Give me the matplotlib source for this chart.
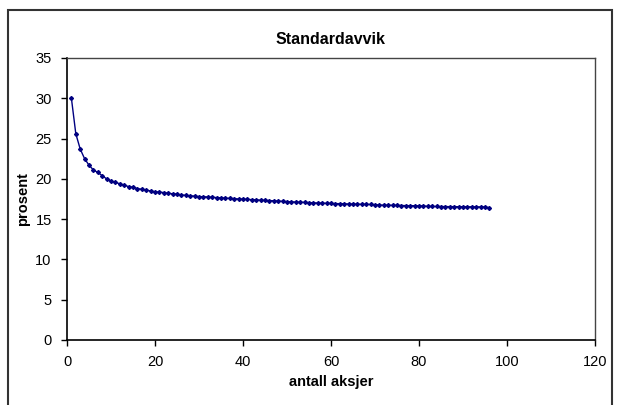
import matplotlib
matplotlib.use("Agg")
import matplotlib.pyplot as plt
from matplotlib.patches import Rectangle

# antall aksjer vs standardavvik (prosent)
antall = list(range(1, 97))
std_prosent = [
    30.0, 25.6, 23.7, 22.5, 21.7, 21.1, 20.8, 20.4, 20.0, 19.75,
    19.55, 19.4, 19.2, 19.05, 18.95, 18.8, 18.7, 18.6, 18.5, 18.4,
    18.35, 18.3, 18.2, 18.15, 18.1, 18.0, 17.95, 17.9, 17.85, 17.8,
    17.78, 17.75, 17.7, 17.68, 17.65, 17.6, 17.58, 17.55, 17.5, 17.48,
    17.45, 17.42, 17.4, 17.35, 17.33, 17.3, 17.28, 17.25, 17.2, 17.18,
    17.15, 17.12, 17.1, 17.08, 17.05, 17.02, 17.0, 16.98, 16.96, 16.95,
    16.93, 16.92, 16.9, 16.88, 16.86, 16.85, 16.84, 16.83, 16.82, 16.8,
    16.75, 16.73, 16.72, 16.71, 16.7, 16.69, 16.68, 16.67, 16.66, 16.65,
    16.64, 16.58, 16.57, 16.57, 16.56, 16.56, 16.55, 16.55, 16.54, 16.54,
    16.53, 16.53, 16.52, 16.52, 16.51, 16.42,
]
x_ticks = [0, 20, 40, 60, 80, 100, 120]
y_ticks = [0, 5, 10, 15, 20, 25, 30, 35]

plt.rcParams['font.family'] = ['Liberation Sans', 'DejaVu Sans']

fig = plt.figure(figsize=(6.17, 4.05), dpi=100)
ax = fig.add_axes([0.1086, 0.1605, 0.8557, 0.6963])

ax.plot(antall, std_prosent, color='#000080', linewidth=1.0,
        marker='D', markersize=2.0, markerfacecolor='#000080',
        markeredgecolor='#000080')

ax.set_xlim(0, 120)
ax.set_ylim(0, 35)
ax.set_xticks(x_ticks)
ax.set_yticks(y_ticks)
ax.tick_params(direction='out', length=4, width=1, labelsize=10.5, pad=7)

for side in ['left', 'bottom']:
    ax.spines[side].set_linewidth(1.2)
    ax.spines[side].set_color('black')
for side in ['top', 'right']:
    ax.spines[side].set_linewidth(1.0)
    ax.spines[side].set_color('#444444')

ax.set_title('Standardavvik', fontsize=11.5, fontweight='bold', pad=10)
ax.set_xlabel('antall aksjer', fontsize=10.5, fontweight='bold', labelpad=4)
ax.set_ylabel('prosent', fontsize=10.5, fontweight='bold', labelpad=4)

# ramme rundt hele diagrammet
fig.patches.append(Rectangle((8 / 617, -0.1), 604 / 617, 1.1 - 10 / 405,
                             transform=fig.transFigure, fill=False,
                             edgecolor='#333333', linewidth=1.5))

fig.savefig('out.png', dpi=100)
